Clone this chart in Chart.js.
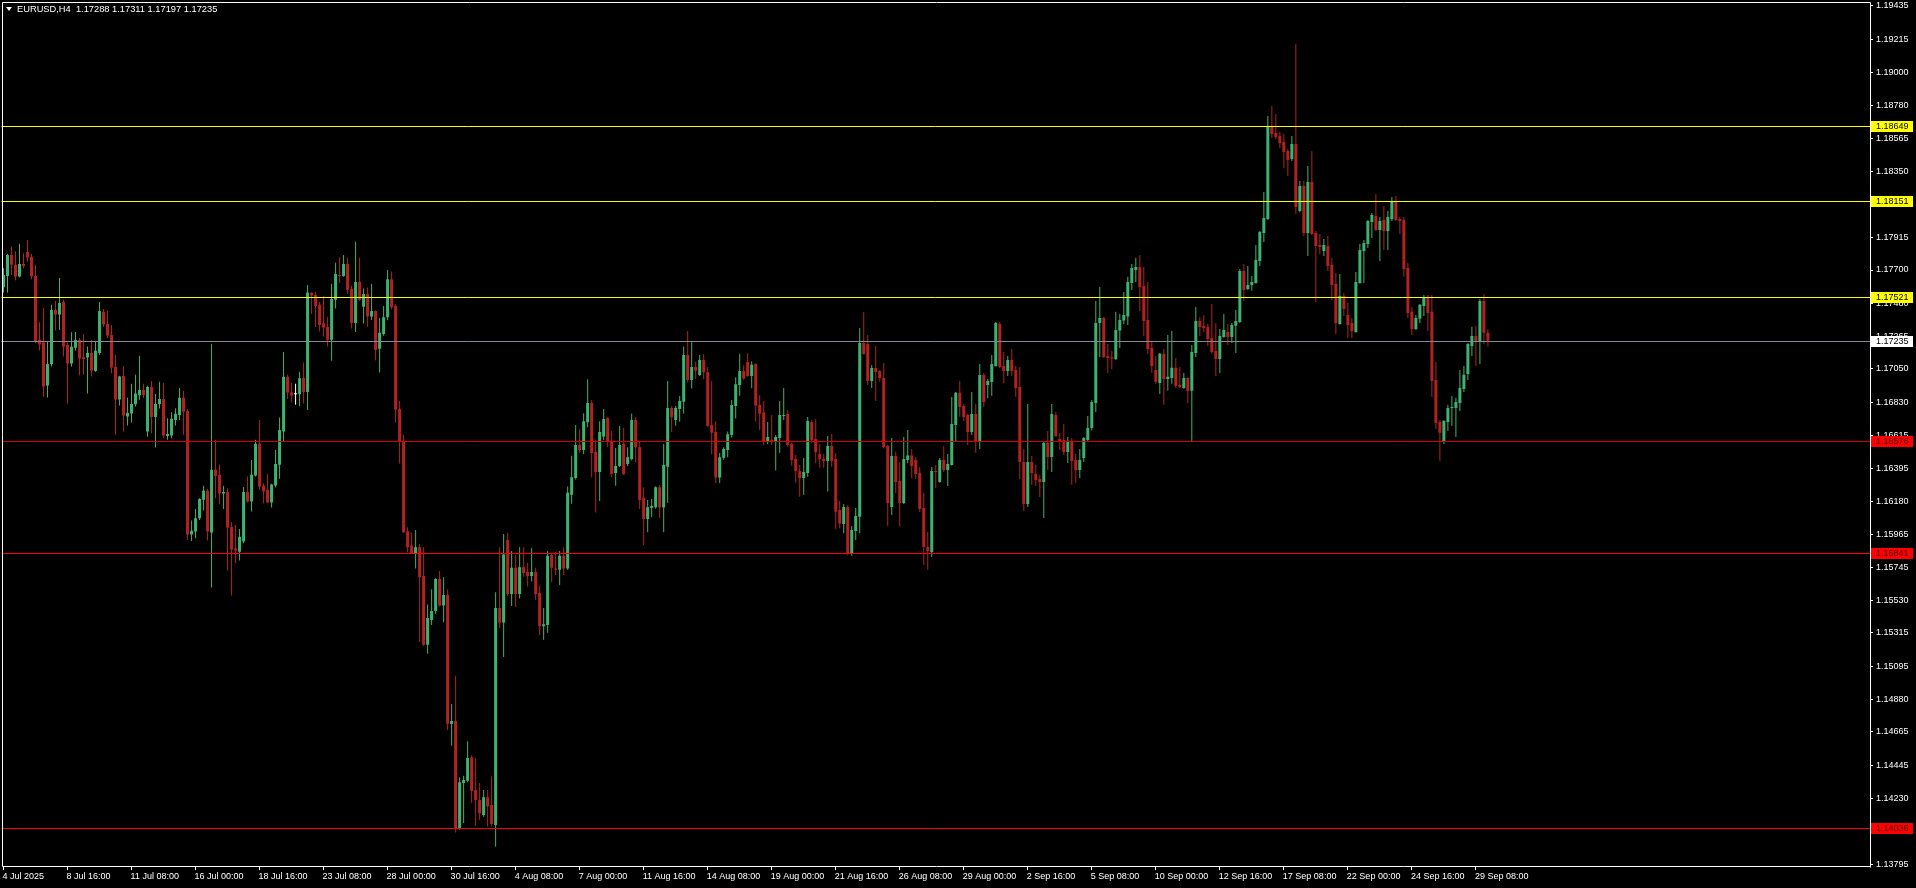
<!DOCTYPE html>
<html>
<head>
<meta charset="utf-8">
<title>EURUSD,H4</title>
<script src="https://cdn.jsdelivr.net/npm/chart.js@4.4.1/dist/chart.umd.min.js"></script>
<style>
    html, body { margin: 0; padding: 0; background: #000; overflow: hidden; }
    #wrap { position: relative; width: 1916px; height: 888px; }
    #hdr {
        position: absolute; left: 6px; top: 4px;
        font: 9.3px 'Liberation Sans', Arial, sans-serif; line-height: 11px;
        color: #fff; white-space: pre;
    }
    #hdr .tri {
        display: inline-block; width: 0; height: 0; margin-right: 5px; vertical-align: 1px;
        border-left: 3.5px solid transparent; border-right: 3.5px solid transparent; border-top: 4px solid #fff;
    }
</style>
</head>
<body>
<div id="wrap">
    <canvas id="chart" width="1916" height="888"></canvas>
    <div id="hdr"><span class="tri"></span><span id="hdrText"></span></div>
</div>
<script>
// EURUSD H4 candles, 4 Jul 2025 00:00 .. 29 Sep 2025 20:00
const symbol = 'EURUSD,H4';

const open = [
    1.17587,1.17661,1.17799,1.17734,1.17657,1.17740,1.17819,1.17786,1.17661,1.17241,
    1.17223,1.16941,1.17083,1.17438,1.17407,1.17490,1.17208,1.17085,1.17190,1.17241,
    1.17127,1.17125,1.17155,1.17037,1.17155,1.17425,1.17346,1.17273,1.17063,1.16849,
    1.17004,1.16737,1.16757,1.16818,1.16877,1.16912,1.16639,1.16932,1.16735,1.16820,
    1.16853,1.16610,1.16612,1.16715,1.16748,1.16860,1.16774,1.15962,1.15982,1.16069,
    1.16190,1.16249,1.15975,1.16387,1.16354,1.16231,1.16242,1.16012,1.15870,1.15848,
    1.15916,1.16242,1.16179,1.16349,1.16558,1.16282,1.16255,1.16172,1.16284,1.16420,
    1.16639,1.16998,1.16895,1.16884,1.16884,1.16991,1.16899,1.17550,1.17536,1.17471,
    1.17350,1.17326,1.17241,1.17504,1.17668,1.17661,1.17740,1.17576,1.17352,1.17622,
    1.17458,1.17543,1.17394,1.17431,1.17182,1.17280,1.17390,1.17640,1.17463,1.16787,
    1.16576,1.15984,1.15888,1.15841,1.15879,1.15689,1.15238,1.15400,1.15459,1.15670,
    1.15496,1.15564,1.14717,1.14736,1.14034,1.14330,1.14344,1.14499,1.14283,1.14217,
    1.14119,1.14236,1.14184,1.14053,1.15480,1.15384,1.15926,1.15571,1.15743,1.15571,
    1.15747,1.15715,1.15689,1.15715,1.15578,1.15360,1.15367,1.15827,1.15738,1.15731,
    1.15823,1.15738,1.16224,1.16334,1.16550,1.16517,1.16700,1.16827,1.16506,1.16372,
    1.16606,1.16728,1.16574,1.16367,1.16412,1.16557,1.16426,1.16459,1.16714,1.16536,
    1.16203,1.16064,1.16137,1.16142,1.16273,1.16139,1.16407,1.16794,1.16714,1.16787,
    1.16834,1.17142,1.16977,1.17062,1.17010,1.17109,1.17029,1.16682,1.16635,1.16337,
    1.16466,1.16517,1.16616,1.16806,1.16944,1.17036,1.17095,1.17004,1.17083,1.16813,
    1.16763,1.16577,1.16585,1.16577,1.16596,1.16741,1.16754,1.16557,1.16458,1.16380,
    1.16334,1.16366,1.16701,1.16590,1.16491,1.16458,1.16445,1.16544,1.16458,1.16123,
    1.16031,1.16143,1.15839,1.15985,1.16079,1.17220,1.17214,1.16971,1.17056,1.17037,
    1.16991,1.16544,1.16143,1.16478,1.16314,1.16169,1.16452,1.16482,1.16452,1.16366,
    1.16136,1.15880,1.15847,1.16380,1.16307,1.16452,1.16386,1.16419,1.16682,1.16894,
    1.16807,1.16747,1.16636,1.16754,1.16577,1.17010,1.16945,1.16964,1.17069,1.17345,
    1.17069,1.17037,1.17109,1.17043,1.16931,1.16439,1.16163,1.16439,1.16360,1.16327,
    1.16307,1.16563,1.16472,1.16747,1.16590,1.16583,1.16504,1.16570,1.16452,1.16386,
    1.16465,1.16583,1.16662,1.16826,1.17352,1.17385,1.17135,1.17127,1.17114,1.17302,
    1.17368,1.17394,1.17615,1.17700,1.17720,1.17595,1.17372,1.17188,1.17043,1.16958,
    1.17149,1.16984,1.16991,1.17057,1.16945,1.16925,1.16991,1.16906,1.17155,1.17365,
    1.17333,1.17326,1.17254,1.17168,1.17116,1.17260,1.17293,1.17260,1.17333,1.17359,
    1.17694,1.17576,1.17602,1.17615,1.17760,1.17944,1.18036,1.18640,1.18601,1.18581,
    1.18541,1.18482,1.18430,1.18528,1.18088,1.18252,1.17944,1.18279,1.17944,1.17865,
    1.17825,1.17858,1.17733,1.17609,1.17346,1.17530,1.17405,1.17352,1.17293,1.17615,
    1.17825,1.17871,1.18016,1.18055,1.17963,1.18029,1.17957,1.18036,1.18147,1.18036,
    1.18029,1.17714,1.17425,1.17313,1.17379,1.17464,1.17523,1.17425,1.16978,1.16702,
    1.16577,1.16702,1.16794,1.16794,1.16827,1.16918,1.17017,1.17201,1.17267,1.17227,
    1.17497,1.17288
];

const high = [
    1.17712,1.17806,1.17854,1.17821,1.17872,1.17810,1.17898,1.17806,1.17734,1.17357,
    1.17451,1.17232,1.17471,1.17497,1.17648,1.17504,1.17223,1.17291,1.17293,1.17254,
    1.17280,1.17197,1.17241,1.17230,1.17490,1.17444,1.17431,1.17339,1.17142,1.17006,
    1.17070,1.16860,1.16952,1.17011,1.17136,1.16952,1.16939,1.16971,1.16886,1.16965,
    1.16958,1.16726,1.16766,1.16792,1.16925,1.16906,1.16785,1.16054,1.16130,1.16200,
    1.16282,1.16262,1.17215,1.16584,1.16420,1.16282,1.16266,1.16045,1.16025,1.15999,
    1.16275,1.16343,1.16452,1.16584,1.16715,1.16299,1.16360,1.16295,1.16518,1.16731,
    1.17162,1.17011,1.16960,1.16952,1.17031,1.17092,1.17602,1.17554,1.17556,1.17490,
    1.17530,1.17392,1.17609,1.17747,1.17784,1.17799,1.17780,1.17596,1.17885,1.17780,
    1.17578,1.17585,1.17609,1.17435,1.17385,1.17463,1.17700,1.17690,1.17475,1.16839,
    1.16616,1.16010,1.15973,1.15992,1.15900,1.15879,1.15503,1.15602,1.15677,1.15722,
    1.15682,1.15602,1.14849,1.15032,1.14367,1.14377,1.14604,1.14511,1.14494,1.14330,
    1.14283,1.14283,1.14372,1.15583,1.15879,1.15966,1.15973,1.15853,1.15827,1.15879,
    1.15879,1.15776,1.15872,1.15743,1.15625,1.15480,1.15853,1.15837,1.15848,1.15853,
    1.15879,1.16278,1.16480,1.16682,1.16653,1.16759,1.16982,1.16846,1.16581,1.16707,
    1.16787,1.16733,1.16642,1.16531,1.16675,1.16663,1.16536,1.16757,1.16733,1.16571,
    1.16273,1.16189,1.16196,1.16280,1.16287,1.16557,1.16970,1.16806,1.16806,1.16872,
    1.17198,1.17299,1.17226,1.17099,1.17142,1.17146,1.17062,1.16970,1.16707,1.16498,
    1.16536,1.16639,1.16846,1.16996,1.17149,1.17074,1.17153,1.17100,1.17087,1.16877,
    1.16839,1.16701,1.16747,1.16616,1.16839,1.16925,1.16780,1.16566,1.16485,1.16419,
    1.16465,1.16734,1.16715,1.16721,1.16555,1.16489,1.16609,1.16623,1.16496,1.16182,
    1.16163,1.16156,1.16018,1.16136,1.17319,1.17424,1.17273,1.17076,1.17201,1.17043,
    1.17089,1.16550,1.16596,1.16507,1.16439,1.16603,1.16649,1.16524,1.16472,1.16406,
    1.16235,1.15979,1.16406,1.16419,1.16465,1.16544,1.16491,1.16866,1.16899,1.16971,
    1.16820,1.16756,1.16899,1.16820,1.17083,1.17023,1.16984,1.17142,1.17358,1.17358,
    1.17161,1.17135,1.17181,1.17069,1.17063,1.16524,1.16820,1.16478,1.16419,1.16353,
    1.16570,1.16642,1.16820,1.16767,1.16629,1.16688,1.16603,1.16596,1.16491,1.16524,
    1.16603,1.16741,1.16846,1.17496,1.17588,1.17391,1.17214,1.17168,1.17425,1.17411,
    1.17556,1.17655,1.17740,1.17779,1.17799,1.17720,1.17622,1.17227,1.17135,1.17155,
    1.17181,1.17273,1.17300,1.17122,1.17063,1.17024,1.16995,1.17208,1.17457,1.17392,
    1.17405,1.17346,1.17477,1.17352,1.17313,1.17411,1.17346,1.17352,1.17438,1.17707,
    1.17740,1.17727,1.17661,1.17865,1.17957,1.18213,1.18712,1.18778,1.18725,1.18607,
    1.18594,1.18495,1.18581,1.19185,1.18285,1.18285,1.18384,1.18482,1.17957,1.17937,
    1.17904,1.17924,1.17779,1.17681,1.17674,1.17549,1.17484,1.17385,1.17687,1.17871,
    1.17898,1.18029,1.18075,1.18200,1.18049,1.18121,1.18088,1.18180,1.18187,1.18049,
    1.18049,1.17746,1.17457,1.17405,1.17477,1.17536,1.17536,1.17536,1.17096,1.16715,
    1.16715,1.16814,1.16873,1.16860,1.17043,1.17070,1.17221,1.17326,1.17333,1.17510,
    1.17543,1.17311
];

const low = [
    1.17552,1.17552,1.17668,1.17631,1.17650,1.17712,1.17755,1.17639,1.17219,1.17171,
    1.16868,1.16862,1.17066,1.17302,1.17306,1.17131,1.16823,1.17066,1.17171,1.17009,
    1.17011,1.16888,1.17000,1.17031,1.17144,1.17328,1.17254,1.17022,1.16617,1.16809,
    1.16639,1.16678,1.16698,1.16803,1.16847,1.16858,1.16606,1.16628,1.16533,1.16790,
    1.16595,1.16584,1.16595,1.16678,1.16715,1.16617,1.15927,1.15920,1.15938,1.16058,
    1.16120,1.15922,1.15614,1.16201,1.16163,1.16130,1.15725,1.15561,1.15773,1.15791,
    1.15905,1.16172,1.16113,1.16343,1.16255,1.16168,1.16168,1.16139,1.16271,1.16328,
    1.16577,1.16853,1.16829,1.16814,1.16807,1.16823,1.16781,1.17412,1.17326,1.17296,
    1.17263,1.17197,1.17103,1.17447,1.17613,1.17655,1.17543,1.17315,1.17293,1.17497,
    1.17348,1.17328,1.17372,1.17105,1.17026,1.17268,1.17370,1.17440,1.16698,1.16428,
    1.15973,1.15846,1.15835,1.15738,1.15255,1.15230,1.15179,1.15367,1.15442,1.15489,
    1.15386,1.14677,1.14574,1.14004,1.14022,1.14067,1.14335,1.14198,1.14048,1.14088,
    1.14107,1.14044,1.14044,1.13910,1.15348,1.15158,1.15555,1.15492,1.15485,1.15541,
    1.15684,1.15621,1.15654,1.15532,1.15302,1.15271,1.15316,1.15649,1.15696,1.15630,
    1.15696,1.15730,1.16165,1.16323,1.16498,1.16489,1.16667,1.16337,1.16107,1.16182,
    1.16583,1.16536,1.16337,1.16283,1.16405,1.16353,1.16412,1.16449,1.16435,1.16130,
    1.15893,1.15977,1.16076,1.16132,1.16071,1.15977,1.16170,1.16635,1.16677,1.16703,
    1.16757,1.16963,1.16921,1.16982,1.17003,1.16982,1.16670,1.16489,1.16301,1.16301,
    1.16454,1.16470,1.16599,1.16724,1.16874,1.16977,1.16999,1.16923,1.16704,1.16649,
    1.16550,1.16555,1.16550,1.16382,1.16500,1.16715,1.16539,1.16415,1.16303,1.16211,
    1.16224,1.16342,1.16561,1.16430,1.16401,1.16401,1.16244,1.16408,1.15998,1.16003,
    1.15970,1.15825,1.15823,1.15926,1.15970,1.17144,1.16945,1.16925,1.16839,1.16966,
    1.16528,1.16018,1.16090,1.16233,1.16014,1.16163,1.16430,1.16331,1.16327,1.16110,
    1.15762,1.15731,1.15815,1.16268,1.16303,1.16375,1.16281,1.16415,1.16577,1.16736,
    1.16708,1.16550,1.16616,1.16498,1.16524,1.16802,1.16857,1.16874,1.17065,1.17056,
    1.16958,1.17004,1.17004,1.16866,1.16327,1.16117,1.16143,1.16288,1.16281,1.16209,
    1.16071,1.16386,1.16373,1.16605,1.16517,1.16485,1.16432,1.16288,1.16301,1.16334,
    1.16439,1.16577,1.16645,1.16767,1.17128,1.17122,1.17023,1.17050,1.17110,1.17188,
    1.17346,1.17339,1.17569,1.17622,1.17431,1.17267,1.17149,1.17024,1.16952,1.16886,
    1.16814,1.16906,1.16952,1.16925,1.16925,1.16919,1.16827,1.16577,1.17129,1.17267,
    1.17293,1.17201,1.17149,1.17004,1.17024,1.17255,1.17208,1.17221,1.17155,1.17352,
    1.17497,1.17569,1.17563,1.17609,1.17727,1.17884,1.18029,1.18568,1.18561,1.18502,
    1.18371,1.18318,1.18417,1.18068,1.18080,1.17924,1.17792,1.17930,1.17490,1.17806,
    1.17792,1.17694,1.17503,1.17280,1.17340,1.17398,1.17254,1.17254,1.17287,1.17609,
    1.17615,1.17845,1.17911,1.17957,1.17760,1.17832,1.17832,1.18022,1.18022,1.17937,
    1.17655,1.17385,1.17273,1.17306,1.17352,1.17398,1.17300,1.16866,1.16656,1.16446,
    1.16557,1.16643,1.16676,1.16603,1.16774,1.16899,1.16978,1.17135,1.17070,1.17083,
    1.17214,1.17197
];

const close = [
    1.17668,1.17799,1.17734,1.17657,1.17740,1.17727,1.17782,1.17657,1.17230,1.17210,
    1.16934,1.17083,1.17438,1.17407,1.17484,1.17197,1.17085,1.17195,1.17241,1.17118,
    1.17116,1.17155,1.17039,1.17169,1.17431,1.17342,1.17269,1.17059,1.16849,1.17000,
    1.16744,1.16761,1.16820,1.16888,1.16912,1.16879,1.16932,1.16735,1.16820,1.16853,
    1.16612,1.16623,1.16722,1.16755,1.16860,1.16770,1.15962,1.15986,1.16069,1.16196,
    1.16249,1.15982,1.16387,1.16347,1.16231,1.16242,1.16008,1.15863,1.15857,1.15947,
    1.16242,1.16179,1.16354,1.16558,1.16277,1.16244,1.16172,1.16290,1.16426,1.16649,
    1.16998,1.16895,1.16875,1.16884,1.16989,1.16899,1.17552,1.17532,1.17464,1.17339,
    1.17322,1.17241,1.17510,1.17674,1.17661,1.17740,1.17571,1.17352,1.17622,1.17504,
    1.17543,1.17394,1.17431,1.17175,1.17287,1.17390,1.17640,1.17456,1.16782,1.16576,
    1.15977,1.15879,1.15841,1.15879,1.15682,1.15238,1.15414,1.15459,1.15670,1.15496,
    1.15564,1.14719,1.14736,1.14034,1.14335,1.14349,1.14494,1.14276,1.14217,1.14130,
    1.14236,1.14175,1.14060,1.15480,1.15384,1.15830,1.15571,1.15743,1.15571,1.15747,
    1.15710,1.15689,1.15715,1.15571,1.15360,1.15372,1.15823,1.15743,1.15731,1.15823,
    1.15738,1.16236,1.16339,1.16550,1.16517,1.16707,1.16827,1.16498,1.16372,1.16635,
    1.16721,1.16574,1.16360,1.16412,1.16550,1.16358,1.16470,1.16714,1.16536,1.16189,
    1.16064,1.16142,1.16149,1.16273,1.16139,1.16419,1.16794,1.16733,1.16794,1.16839,
    1.17142,1.16977,1.17062,1.17038,1.17109,1.17029,1.16675,1.16630,1.16337,1.16470,
    1.16524,1.16621,1.16813,1.16949,1.17036,1.16987,1.17004,1.17078,1.16809,1.16756,
    1.16577,1.16603,1.16574,1.16603,1.16747,1.16747,1.16550,1.16452,1.16380,1.16334,
    1.16373,1.16708,1.16583,1.16504,1.16456,1.16445,1.16544,1.16445,1.16112,1.16034,
    1.16143,1.15839,1.15992,1.16084,1.17220,1.17148,1.16971,1.17056,1.17030,1.16991,
    1.16537,1.16169,1.16478,1.16307,1.16169,1.16458,1.16482,1.16412,1.16360,1.16130,
    1.15880,1.15854,1.16380,1.16373,1.16452,1.16386,1.16426,1.16688,1.16894,1.16800,
    1.16734,1.16636,1.16754,1.16577,1.17010,1.16833,1.16971,1.17083,1.17352,1.17063,
    1.17037,1.17109,1.17037,1.16925,1.16439,1.16163,1.16439,1.16366,1.16320,1.16307,
    1.16563,1.16472,1.16754,1.16609,1.16577,1.16504,1.16570,1.16445,1.16386,1.16452,
    1.16596,1.16662,1.16833,1.17352,1.17385,1.17128,1.17122,1.17118,1.17306,1.17372,
    1.17405,1.17622,1.17714,1.17720,1.17589,1.17365,1.17181,1.17070,1.16965,1.17149,
    1.16984,1.16998,1.17057,1.16938,1.16932,1.16991,1.16906,1.17162,1.17365,1.17326,
    1.17319,1.17247,1.17162,1.17116,1.17267,1.17306,1.17260,1.17339,1.17365,1.17694,
    1.17569,1.17602,1.17622,1.17766,1.17950,1.18042,1.18640,1.18594,1.18574,1.18535,
    1.18476,1.18423,1.18528,1.18114,1.18252,1.17944,1.18279,1.17937,1.17858,1.17852,
    1.17865,1.17727,1.17602,1.17352,1.17530,1.17444,1.17339,1.17300,1.17622,1.17832,
    1.17878,1.18022,1.18062,1.17963,1.18022,1.17957,1.18049,1.18147,1.18029,1.18022,
    1.17707,1.17418,1.17313,1.17385,1.17471,1.17523,1.17418,1.16971,1.16695,1.16630,
    1.16708,1.16794,1.16800,1.16833,1.16925,1.17011,1.17214,1.17267,1.17227,1.17497,
    1.17287,1.17235
];

// time axis labels, one every 16 bars
const xTickLabels = [
    '4 Jul 2025', '8 Jul 16:00', '11 Jul 08:00', '16 Jul 00:00', '18 Jul 16:00', '23 Jul 08:00',
    '28 Jul 00:00', '30 Jul 16:00', '4 Aug 08:00', '7 Aug 00:00', '11 Aug 16:00', '14 Aug 08:00',
    '19 Aug 00:00', '21 Aug 16:00', '26 Aug 08:00', '29 Aug 00:00', '2 Sep 16:00', '5 Sep 08:00',
    '10 Sep 00:00', '12 Sep 16:00', '17 Sep 08:00', '22 Sep 00:00', '24 Sep 16:00', '29 Sep 08:00'
];
const barsPerTick = 16;

// price axis labels
const yTickValues = [
    1.19435, 1.19215, 1.19000, 1.18780, 1.18565, 1.18350, 1.18130, 1.17915, 1.17700,
    1.17480, 1.17265, 1.17050, 1.16830, 1.16615, 1.16395, 1.16180, 1.15965, 1.15745,
    1.15530, 1.15315, 1.15095, 1.14880, 1.14665, 1.14445, 1.14230, 1.14010, 1.13795
];
const yMin = 1.13784;
const yMax = 1.19461;

// horizontal levels
const resistanceLevels = [1.18649, 1.18151, 1.17521];
const supportLevels = [1.16576, 1.15841, 1.14036];
const bidPrice = close[close.length - 1];

// styles
const UP = '#3cb371';
const DOWN = '#b22222';
const DOJI = '#ffffff';
const FONT = "'Liberation Sans', Arial, sans-serif";
const SLOTS = 467;   // bars that fit the visible window (empty space on the right)

document.addEventListener('DOMContentLoaded', function() {
    const last = open.length - 1;
    document.getElementById('hdrText').textContent =
        symbol + '  ' + [open[last], high[last], low[last], close[last]].map(v => v.toFixed(5)).join(' ');

    const bodies = open.map((o, i) => [Math.min(o, close[i]), Math.max(o, close[i])]);
    const wicks = low.map((l, i) => [l, high[i]]);
    const colors = open.map((o, i) => close[i] > o ? UP : (close[i] < o ? DOWN : DOJI));

    const levelsPlugin = {
        id: 'levels',
        afterDatasetsDraw(chart) {
            const { ctx, chartArea: a, scales: { y } } = chart;
            const line = (p, color) => {
                const py = Math.round(y.getPixelForValue(p)) + 0.5;
                ctx.strokeStyle = color;
                ctx.beginPath();
                ctx.moveTo(a.left, py);
                ctx.lineTo(a.right, py);
                ctx.stroke();
            };
            ctx.save();
            ctx.lineWidth = 1;
            line(bidPrice, '#7f8a96');
            resistanceLevels.forEach(p => line(p, '#ffff00'));
            supportLevels.forEach((p, k) => line(p, k === 0 ? '#d40000' : '#ff0000'));
            ctx.restore();
        },
        afterDraw(chart) {
            const { ctx, chartArea: a, scales: { y } } = chart;
            ctx.save();
            // chart frame
            ctx.strokeStyle = '#ffffff';
            ctx.lineWidth = 1;
            const l = Math.round(a.left) + 0.5, t = Math.round(a.top) + 0.5;
            const r = Math.round(a.right) + 0.5, b = Math.round(a.bottom) + 0.5;
            ctx.beginPath();
            ctx.moveTo(l, b); ctx.lineTo(l, t); ctx.lineTo(r, t); ctx.lineTo(r, b + 1);
            ctx.moveTo(l, b); ctx.lineTo(r, b);
            ctx.stroke();

            // price tags on the axis
            ctx.font = '9px ' + FONT;
            ctx.textBaseline = 'middle';
            ctx.textAlign = 'left';
            const tag = (p, bg, fg) => {
                const py = Math.round(y.getPixelForValue(p));
                ctx.fillStyle = bg;
                ctx.fillRect(Math.round(a.right) + 1, py - 5, 42, 11);
                ctx.fillStyle = fg;
                ctx.fillText(p.toFixed(5), Math.round(a.right) + 6, py + 0.5);
            };
            resistanceLevels.forEach(p => tag(p, '#ffff00', '#000000'));
            supportLevels.forEach(p => tag(p, '#ff0000', '#4a0000'));
            tag(bidPrice, '#ffffff', '#000000');
            ctx.restore();
        }
    };

    const ctx = document.getElementById('chart').getContext('2d');
    new Chart(ctx, {
        type: 'bar',
        data: {
            labels: Array.from({ length: SLOTS }, (_, i) => i),
            datasets: [{
                label: 'body',
                data: bodies,
                backgroundColor: colors,
                barThickness: 3,
                minBarLength: 1,
                grouped: false,
                inflateAmount: 0,
                borderWidth: 0
            }, {
                label: 'wick',
                data: wicks,
                backgroundColor: colors,
                barThickness: 1,
                minBarLength: 1,
                grouped: false,
                inflateAmount: 0,
                borderWidth: 0
            }]
        },
        options: {
            responsive: false,
            animation: false,
            devicePixelRatio: 1,
            events: [],
            layout: { padding: { left: 1.5, top: 2, right: 0, bottom: 0 } },
            plugins: {
                legend: { display: false },
                tooltip: { enabled: false }
            },
            scales: {
                x: {
                    type: 'category',
                    offset: true,
                    border: { display: false },
                    grid: { display: true, drawOnChartArea: false, drawTicks: true, tickLength: 4, color: '#ffffff', offset: false },
                    ticks: {
                        autoSkip: false, maxRotation: 0, minRotation: 0,
                        align: 'start', labelOffset: -1, padding: 1,
                        color: '#ffffff', font: { family: FONT, size: 9 },
                        callback: (v) => xTickLabels[v / barsPerTick]
                    },
                    afterBuildTicks: (s) => {
                        s.ticks = xTickLabels.map((_, k) => ({ value: k * barsPerTick }));
                    },
                    afterFit: (s) => {
                        s.height = 22;
                        s.paddingLeft = 0;
                        s.paddingRight = 0;
                    }
                },
                y: {
                    type: 'linear',
                    position: 'right',
                    min: yMin,
                    max: yMax,
                    bounds: 'data',
                    beginAtZero: false,
                    border: { display: false },
                    grid: { display: true, drawOnChartArea: false, drawTicks: true, tickLength: 3, color: '#ffffff' },
                    ticks: {
                        padding: 3,
                        color: '#ffffff', font: { family: FONT, size: 9 },
                        callback: (v) => Number(v).toFixed(5)
                    },
                    afterBuildTicks: (s) => {
                        s.ticks = yTickValues.map(v => ({ value: v }));
                    },
                    afterFit: (s) => {
                        s.width = 46;
                        s.paddingTop = 0;
                        s.paddingBottom = 0;
                    }
                }
            }
        },
        plugins: [levelsPlugin]
    });
});
</script>
</body>
</html>
